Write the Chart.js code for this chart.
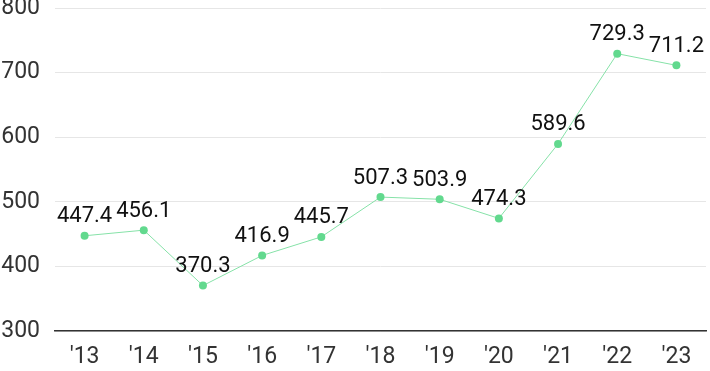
<!DOCTYPE html>
<html lang="en">
<head>
  <meta charset="UTF-8" />
  <title>Yearly values</title>
  <script src="https://cdn.jsdelivr.net/npm/chart.js"></script>
  <style>
    html, body { margin: 0; padding: 0; background: #fff; }
    .wrap { width: 710px; height: 371px; }
  </style>
</head>
<body>
  <div class="wrap"><canvas id="lineChart"></canvas></div>

  <script>
    const years = ["'13", "'14", "'15", "'16", "'17", "'18", "'19", "'20", "'21", "'22", "'23"];
    const values = [447.4, 456.1, 370.3, 416.9, 445.7, 507.3, 503.9, 474.3, 589.6, 729.3, 711.2];
    const yTicks = [300, 400, 500, 600, 700, 800];

    // draws the value above each point
    const valueLabels = {
      id: 'valueLabels',
      afterDatasetsDraw(chart) {
        const ctx = chart.ctx;
        const meta = chart.getDatasetMeta(0);
        ctx.save();
        ctx.font = '22px Roboto, sans-serif';
        ctx.fillStyle = '#111';
        ctx.textAlign = 'center';
        ctx.textBaseline = 'middle';
        meta.data.forEach((pt, i) => {
          ctx.fillText(values[i].toFixed(1), pt.x, pt.y - 19);
        });
        ctx.restore();
      }
    };

    new Chart(document.getElementById('lineChart'), {
      type: 'line',
      data: {
        labels: years,
        datasets: [{
          data: values,
          borderColor: '#86e2a8',
          borderWidth: 1,
          pointBackgroundColor: '#62d98e',
          pointBorderWidth: 0,
          pointRadius: 4,
          tension: 0
        }]
      },
      options: {
        responsive: true,
        maintainAspectRatio: false,
        animation: false,
        layout: { padding: { top: 8, right: -3, left: 0, bottom: 0 } },
        plugins: { legend: { display: false }, tooltip: { enabled: false } },
        scales: {
          x: {
            offset: true,
            grid: { display: false, drawTicks: false },
            border: { color: '#333', width: 1.5 },
            ticks: { color: '#333', font: { family: 'Roboto, sans-serif', size: 23 }, padding: 12, maxRotation: 0, autoSkip: false },
            afterFit: axis => { axis.height = 40; axis.paddingLeft = 0; axis.paddingRight = 0; }
          },
          y: {
            min: 300,
            max: 800,
            afterBuildTicks: axis => { axis.ticks = yTicks.map(v => ({ value: v })); },
            grid: { color: '#e6e6e6', drawTicks: false },
            border: { display: false },
            ticks: { color: '#333', font: { family: 'Roboto, sans-serif', size: 23 }, padding: 15 },
            afterFit: axis => { axis.width = 55; axis.paddingTop = 0; axis.paddingBottom = 0; }
          }
        }
      },
      plugins: [valueLabels]
    });
  </script>
</body>
</html>
